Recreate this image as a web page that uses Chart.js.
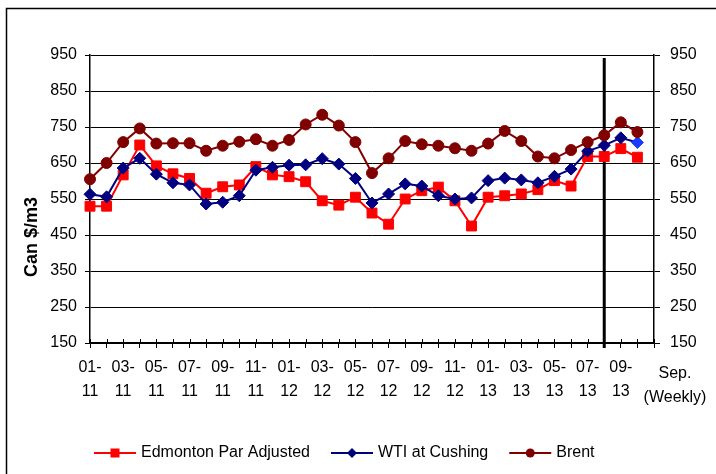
<!DOCTYPE html>
<html>
<head>
<meta charset="utf-8">
<script src="https://cdn.jsdelivr.net/npm/chart.js@4.4.1/dist/chart.umd.min.js"></script>
<style>
  html, body { margin: 0; padding: 0; background: #fff; }
  #wrap { width: 716px; height: 474px; }
</style>
</head>
<body>
<div id="wrap"><canvas id="chart" width="716" height="474"></canvas></div>
<script>
// monthly points Jan 2011 .. Aug 2013, then weekly September points
const categories = [
    '01-11', '02-11', '03-11', '04-11', '05-11', '06-11', '07-11', '08-11', '09-11', '10-11', '11-11', '12-11',
    '01-12', '02-12', '03-12', '04-12', '05-12', '06-12', '07-12', '08-12', '09-12', '10-12', '11-12', '12-12',
    '01-13', '02-13', '03-13', '04-13', '05-13', '06-13', '07-13', '08-13', '09-13', '', ''
];
const weekLabel = ['Sep.', '(Weekly)'];
const yTitle = 'Can $/m3';
const yTicks = { min: 150, max: 950, step: 100 };

const edmonton = [530, 530, 617, 700, 642, 620, 607, 566, 584, 589, 640, 617,
                  612, 598, 545, 533, 555, 511, 480, 550, 573, 583, 545, 475,
                  555, 559, 564, 576, 601, 586, 668, 668, 690, 666];
const wti      = [563, 556, 636, 663, 619, 595, 589, 536, 541, 559, 630, 638,
                  644, 645, 662, 647, 607, 539, 564, 592, 586, 559, 550, 553,
                  601, 608, 603, 595, 613, 633, 683, 699, 720, 707];
const brent    = [605, 650, 708, 746, 704, 705, 705, 684, 698, 709, 716, 698,
                  714, 757, 784, 754, 708, 622, 663, 711, 702, 698, 691, 684,
                  704, 739, 711, 668, 663, 686, 708, 727, 763, 736];
const splitIndex = 31; // start of the weekly section

const FONT = "'Liberation Sans', Arial, sans-serif";

function drawLegendIcon(ctx, x, y, color, style) {
    ctx.strokeStyle = color;
    ctx.fillStyle = color;
    ctx.lineWidth = 2;
    ctx.beginPath(); ctx.moveTo(x, y); ctx.lineTo(x + 42, y); ctx.stroke();
    const cx = x + 21;
    if (style === 'rect') {
        ctx.fillRect(cx - 4.5, y - 4.5, 9, 9);
    } else if (style === 'rectRot') {
        ctx.beginPath(); ctx.moveTo(cx, y - 5); ctx.lineTo(cx + 5, y); ctx.lineTo(cx, y + 5); ctx.lineTo(cx - 5, y); ctx.closePath(); ctx.fill();
    } else {
        ctx.beginPath(); ctx.arc(cx, y, 4.5, 0, Math.PI * 2); ctx.fill();
    }
}

// 枠線・分割線・軸タイトル・凡例など
const decor = {
    id: 'decor',
    beforeDatasetsDraw(chart) {
        const { ctx, chartArea } = chart;
        const x = chart.scales.x;
        ctx.save();
        ctx.strokeStyle = '#000';
        ctx.lineWidth = 1;
        for (let i = 0; i < categories.length; i++) {
            const px = Math.round(x.getPixelForValue(i)) + 0.5;
            ctx.beginPath();
            ctx.moveTo(px, chartArea.bottom - 4);
            ctx.lineTo(px, chartArea.bottom);
            ctx.stroke();
        }
        const sx = x.getPixelForValue(splitIndex);
        ctx.lineWidth = 3;
        ctx.beginPath();
        ctx.moveTo(sx, chartArea.top + 3);
        ctx.lineTo(sx, chartArea.bottom + 5);
        ctx.stroke();
        ctx.restore();
    },
    afterDraw(chart) {
        const { ctx } = chart;
        const x = chart.scales.x;
        ctx.save();
        ctx.strokeStyle = '#000';
        ctx.lineWidth = 1.5;
        ctx.strokeRect(6.5, 8.5, 730, 490);

        ctx.fillStyle = '#000';
        ctx.font = 'bold 18px ' + FONT;
        ctx.textAlign = 'center';
        ctx.textBaseline = 'middle';
        ctx.translate(32, 237);
        ctx.rotate(-Math.PI / 2);
        ctx.fillText(yTitle, 0, 0);
        ctx.restore();

        ctx.save();
        ctx.fillStyle = '#000';
        ctx.font = '16px ' + FONT;
        ctx.textAlign = 'center';
        ctx.textBaseline = 'middle';
        const wx = x.getPixelForValue(categories.length - 1) + 21;
        ctx.fillText(weekLabel[0], wx, 374);
        ctx.fillText(weekLabel[1], wx, 398);

        // 凡例
        ctx.textAlign = 'left';
        let lx = 94;
        const ly = 453;
        chart.data.datasets.forEach(ds => {
            drawLegendIcon(ctx, lx, ly, ds.borderColor, ds.pointStyle);
            ctx.fillStyle = '#000';
            ctx.fillText(ds.label, lx + 47, ly);
            lx += 47 + ctx.measureText(ds.label).width + 21;
        });
        ctx.restore();
    }
};

const ctx = document.getElementById('chart');
new Chart(ctx, {
    type: 'line',
    data: {
        labels: categories,
        datasets: [
            {
                label: 'Edmonton Par Adjusted',
                data: edmonton,
                borderColor: '#ff0000',
                backgroundColor: '#ff0000',
                pointStyle: 'rect',
                pointRadius: 7,
                pointBorderWidth: 1,
                borderWidth: 2,
                order: 3
            },
            {
                label: 'WTI at Cushing',
                data: wti,
                borderColor: '#000080',
                backgroundColor: '#000080',
                pointBackgroundColor: wti.map((v, i) => i === wti.length - 1 ? '#1a3cff' : '#000080'),
                pointBorderColor: wti.map((v, i) => i === wti.length - 1 ? '#1a3cff' : '#000080'),
                pointStyle: 'rectRot',
                pointRadius: 6,
                pointBorderWidth: 1,
                borderWidth: 2,
                order: 2
            },
            {
                label: 'Brent',
                data: brent,
                borderColor: '#800000',
                backgroundColor: '#800000',
                pointStyle: 'circle',
                pointRadius: 5.5,
                pointBorderWidth: 1,
                borderWidth: 2,
                order: 1
            }
        ]
    },
    plugins: [decor],
    options: {
        responsive: false,
        animation: false,
        layout: { padding: { left: 0, right: 0, top: 55, bottom: 40 } },
        plugins: {
            tooltip: { enabled: false },
            legend: { display: false }
        },
        scales: {
            x: {
                type: 'category',
                offset: false,
                grid: { display: true, drawOnChartArea: false, tickLength: 5, color: '#000', lineWidth: 1 },
                border: { color: '#000', width: 1.5 },
                ticks: {
                    autoSkip: false,
                    maxRotation: 0,
                    minRotation: 0,
                    padding: 8,
                    color: '#000',
                    font: { size: 16, family: FONT, lineHeight: 1.5 },
                    callback: (value, index) => {
                        const lab = categories[index];
                        if (index % 2 === 0 && lab) return [lab.slice(0, 3), lab.slice(3)];
                        return '';
                    }
                },
                afterFit: (s) => { s.height = 91; }
            },
            y: {
                position: 'left',
                min: yTicks.min,
                max: yTicks.max,
                ticks: { stepSize: yTicks.step, padding: 8, color: '#000', font: { size: 16, family: FONT } },
                grid: { color: '#000', lineWidth: 1, tickLength: 5 },
                border: { color: '#000', width: 1.5 },
                afterFit: (s) => { s.width = 90; }
            },
            y2: {
                position: 'right',
                min: yTicks.min,
                max: yTicks.max,
                ticks: { stepSize: yTicks.step, padding: 10, color: '#000', font: { size: 16, family: FONT } },
                grid: { drawOnChartArea: false, color: '#000', lineWidth: 1, tickLength: 6 },
                border: { color: '#000', width: 1.5 },
                afterFit: (s) => { s.width = 62; }
            }
        }
    }
});
</script>
</body>
</html>
